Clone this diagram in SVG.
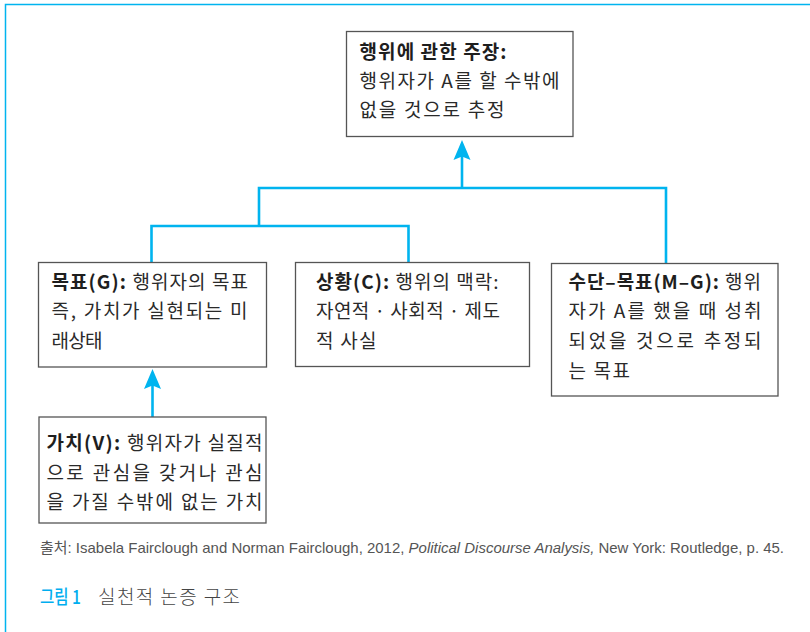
<svg xmlns="http://www.w3.org/2000/svg" width="810" height="632" viewBox="0 0 810 632">
<style>
  .box { fill: #ffffff; stroke: #555555; stroke-width: 1.3; }
  .t { font-family: "Noto Sans CJK KR", "Noto Sans", sans-serif; font-size: 19px; fill: #2a2a2a; }
  .b { font-weight: 700; fill: #1e1e1e; }
  .conn { fill: none; stroke: #00b4ef; stroke-width: 2.6; stroke-linejoin: miter; }
  .frame { fill: none; stroke: #00b4ef; stroke-width: 1.5; }
  .src { font-family: "Liberation Sans", "Noto Sans CJK KR", sans-serif; font-size: 15px; fill: #555555; }
  .fig { font-family: "Noto Sans CJK KR", sans-serif; font-size: 19px; fill: #00aeef; font-weight: 500; }
  .cap { font-family: "Noto Sans CJK KR", sans-serif; font-size: 19px; fill: #444444; font-weight: 300; }
</style>
<rect x="0" y="0" width="810" height="632" fill="#ffffff"/>
<path class="frame" d="M5.5,632 V4.5 H810"/>

<g id="connectors">
  <path class="conn" d="M151.5,262 V226 H408.5 V262"/>
  <path class="conn" d="M259,226 V188 H666 V263"/>
  <line class="conn" x1="462" y1="188" x2="462" y2="156"/>
  <path d="M462,140 L470.5,160 L462,156.5 L453.5,160 Z" fill="#00b4ef"/>
  <line class="conn" x1="152.5" y1="417" x2="152.5" y2="385"/>
  <path d="M152.5,369 L161,389 L152.5,385.5 L144,389 Z" fill="#00b4ef"/>
</g>

<g id="claim">
  <rect class="box" x="346.5" y="31.5" width="226.5" height="105"/>
  <text class="t" x="359.5" y="58.5" textLength="147" lengthAdjust="spacing"><tspan class="b">행위에 관한 주장:</tspan></text>
  <text class="t" x="359.5" y="88" textLength="200" lengthAdjust="spacing">행위자가 A를 할 수밖에</text>
  <text class="t" x="359.5" y="117" textLength="145" lengthAdjust="spacing">없을 것으로 추정</text>
</g>

<g id="goal">
  <rect class="box" x="38.5" y="262.5" width="228" height="104.5"/>
  <text class="t" x="51.5" y="288.5" textLength="196.5" lengthAdjust="spacing"><tspan class="b">목표(G):</tspan> 행위자의 목표</text>
  <text class="t" x="51.5" y="318" textLength="196" lengthAdjust="spacing">즉, 가치가 실현되는 미</text>
  <text class="t" x="51.5" y="347.5" textLength="51" lengthAdjust="spacing">래상태</text>
</g>

<g id="circumstances">
  <rect class="box" x="295.5" y="262.5" width="234" height="104"/>
  <text class="t" x="316" y="288.5" textLength="182.5" lengthAdjust="spacing"><tspan class="b">상황(C):</tspan> 행위의 맥락:</text>
  <text class="t" x="316" y="318" textLength="184" lengthAdjust="spacing">자연적 · 사회적 · 제도</text>
  <text class="t" x="316" y="347.5" textLength="60.5" lengthAdjust="spacing">적 사실</text>
</g>

<g id="means-goal">
  <rect class="box" x="551.5" y="263.5" width="226.5" height="132.5"/>
  <text class="t" x="568.5" y="288.5" textLength="192.5" lengthAdjust="spacing"><tspan class="b">수단–목표(M–G):</tspan> 행위</text>
  <text class="t" x="568.5" y="318" textLength="193" lengthAdjust="spacing">자가 A를 했을 때 성취</text>
  <text class="t" x="568.5" y="348" textLength="193" lengthAdjust="spacing">되었을 것으로 추정되</text>
  <text class="t" x="568.5" y="378" textLength="61.5" lengthAdjust="spacing">는 목표</text>
</g>

<g id="value">
  <rect class="box" x="39" y="417" width="227" height="106"/>
  <text class="t" x="46.5" y="450" textLength="216" lengthAdjust="spacing"><tspan class="b">가치(V):</tspan> 행위자가 실질적</text>
  <text class="t" x="46.5" y="479.5" textLength="216" lengthAdjust="spacing">으로 관심을 갖거나 관심</text>
  <text class="t" x="46.5" y="509" textLength="216" lengthAdjust="spacing">을 가질 수밖에 없는 가치</text>
</g>

<text class="src" x="40" y="553" textLength="744" lengthAdjust="spacingAndGlyphs">출처: Isabela Fairclough and Norman Fairclough, 2012, <tspan font-style="italic">Political Discourse Analysis,</tspan> New York: Routledge, p. 45.</text>
<text class="fig" x="40" y="603.5" textLength="41" lengthAdjust="spacingAndGlyphs">그림 1</text>
<text class="cap" x="98" y="603.5" textLength="142" lengthAdjust="spacing">실천적 논증 구조</text>
</svg>
